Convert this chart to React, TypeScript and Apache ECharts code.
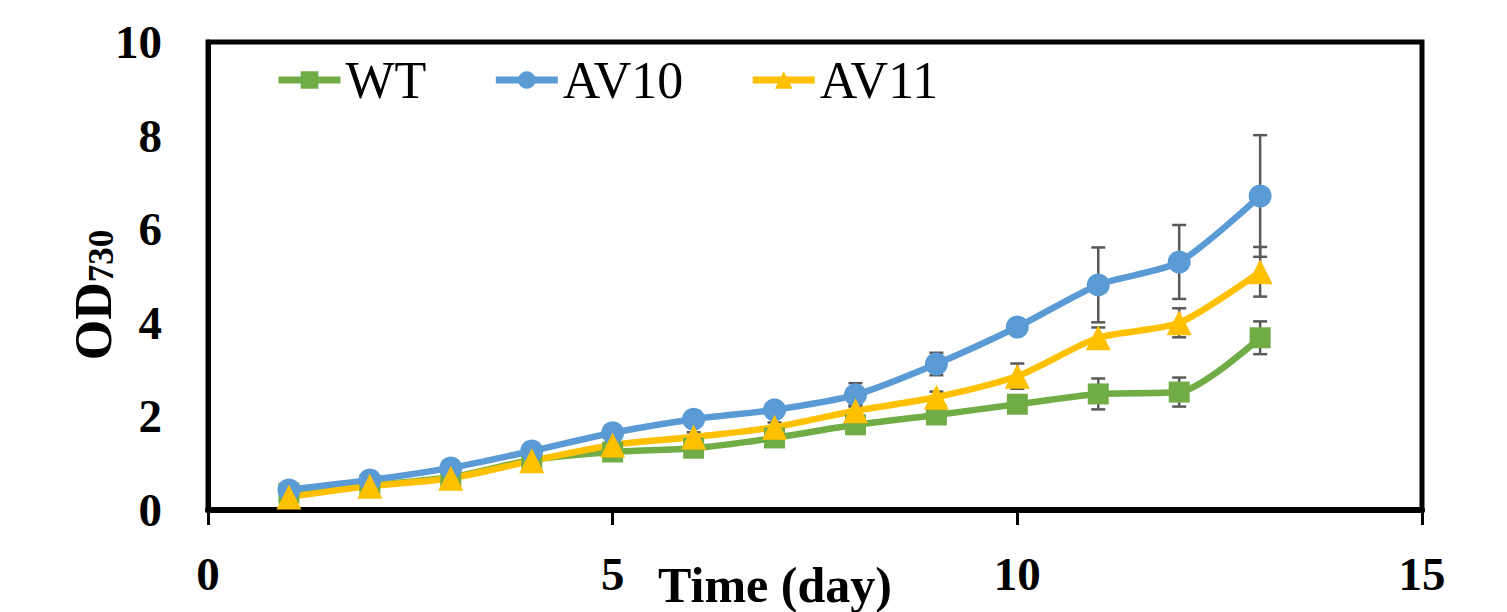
import React, { useEffect, useRef } from "react";
import * as echarts from "echarts";

const days = [1, 2, 3, 4, 5, 6, 7, 8, 9, 10, 11, 12, 13];
const seriesNames = ["WT", "AV10", "AV11"];
const wt = [0.36, 0.53, 0.7, 1.07, 1.24, 1.32, 1.54, 1.82, 2.03, 2.26, 2.48, 2.52, 3.68];
const av10 = [0.43, 0.64, 0.9, 1.26, 1.65, 1.94, 2.14, 2.46, 3.12, 3.91, 4.81, 5.3, 6.71];
const av11 = [0.28, 0.51, 0.68, 1.05, 1.39, 1.56, 1.77, 2.12, 2.41, 2.86, 3.68, 4.0, 5.09];
const wtErr = [0.05, 0.05, 0.05, 0.05, 0.05, 0.08, 0.08, 0.1, 0.1, 0.1, 0.33, 0.31, 0.35];
const av10Err = [0.05, 0.05, 0.05, 0.08, 0.08, 0.1, 0.1, 0.25, 0.24, 0.12, 0.8, 0.79, 1.3];
const av11Err = [0.05, 0.05, 0.05, 0.05, 0.08, 0.1, 0.1, 0.12, 0.12, 0.27, 0.22, 0.31, 0.53];
const xTicks = [0, 5, 10, 15];
const yTicks = [0, 2, 4, 6, 8, 10];

const FONT = "'Liberation Serif', 'Times New Roman', serif";
const colors = ["#70AD47", "#5B9BD5", "#FFC000"];
const symbols = ["rect", "circle", "triangle"];
const symbolSizes = [21, 23, 25];

export default function App() {
  const ref = useRef<HTMLDivElement>(null);
  useEffect(() => {
    if (!ref.current) return;
    const chart = echarts.init(ref.current, null, { renderer: "svg" });
    const vals = [wt, av10, av11];
    const errs = [wtErr, av10Err, av11Err];

    const errSeries = vals.map((v, k) => ({
      name: seriesNames[k] + " error",
      type: "custom",
      z: 1,
      data: days.map((d, i) => [d, v[i] - errs[k][i], v[i] + errs[k][i]]),
      encode: { x: 0, y: [1, 2] },
      renderItem: (params: any, api: any) => {
        const x = api.value(0);
        const lo = api.coord([x, api.value(1)]);
        const hi = api.coord([x, api.value(2)]);
        const w = 7;
        const style = { stroke: "#595959", lineWidth: 2.5 };
        return {
          type: "group",
          children: [
            { type: "line", shape: { x1: lo[0], y1: lo[1], x2: hi[0], y2: hi[1] }, style },
            { type: "line", shape: { x1: lo[0] - w, y1: lo[1], x2: lo[0] + w, y2: lo[1] }, style },
            { type: "line", shape: { x1: hi[0] - w, y1: hi[1], x2: hi[0] + w, y2: hi[1] }, style },
          ],
        };
      },
    }));

    const lineSeries = vals.map((v, k) => ({
      name: seriesNames[k],
      type: "line",
      z: 3,
      smooth: 0.25,
      data: days.map((d, i) => [d, v[i]]),
      symbol: symbols[k],
      symbolSize: symbolSizes[k],
      lineStyle: { color: colors[k], width: 6.5 },
      itemStyle: { color: colors[k] },
    }));

    chart.setOption({
      animation: false,
      backgroundColor: "#ffffff",
      grid: {
        left: 208,
        right: 85,
        top: 42,
        bottom: 102,
        show: true,
        borderColor: "#000",
        borderWidth: 5,
        containLabel: false,
      },
      legend: {
        data: seriesNames,
        left: 270,
        top: 49,
        itemWidth: 62,
        itemHeight: 22,
        itemGap: 66,
        lineStyle: { width: 7 },
        textStyle: { fontFamily: FONT, fontSize: 52, color: "#000" },
      },
      xAxis: {
        type: "value",
        min: xTicks[0],
        max: xTicks[xTicks.length - 1],
        interval: 5,
        axisLine: { show: true, lineStyle: { color: "#000", width: 6 } },
        axisTick: { show: true, inside: false, length: 15, lineStyle: { color: "#000", width: 3 } },
        splitLine: { show: false },
        axisLabel: {
          margin: 40,
          fontFamily: FONT,
          fontWeight: "bold",
          fontSize: 47,
          color: "#000",
        },
      },
      yAxis: {
        type: "value",
        min: yTicks[0],
        max: yTicks[yTicks.length - 1],
        interval: 2,
        axisLine: { show: true, lineStyle: { color: "#000", width: 5 } },
        axisTick: { show: false },
        splitLine: { show: false },
        axisLabel: {
          margin: 46,
          fontFamily: FONT,
          fontWeight: "bold",
          fontSize: 47,
          color: "#000",
        },
      },
      graphic: [
        {
          type: "text",
          x: 775,
          y: 585,
          style: {
            text: "Time (day)",
            fontFamily: FONT,
            fontWeight: "bold",
            fontSize: 50,
            fill: "#000",
            align: "center",
            verticalAlign: "middle",
          },
        },
        {
          type: "text",
          x: 93,
          y: 295,
          rotation: Math.PI / 2,
          style: {
            text: "{a|OD}{b|730}",
            align: "center",
            verticalAlign: "middle",
            rich: {
              a: { fontFamily: FONT, fontWeight: "bold", fontSize: 52, fill: "#000", lineHeight: 52, verticalAlign: "middle" },
              b: { fontFamily: FONT, fontWeight: "bold", fontSize: 35, fill: "#000", verticalAlign: "bottom", lineHeight: 35 },
            },
          },
        },
      ],
      series: [...errSeries, ...lineSeries],
    });
    return () => chart.dispose();
  }, []);
  return (
    <div
      ref={ref}
      style={{ position: "absolute", left: 0, top: 0, width: 1507, height: 612 }}
    />
  );
}
